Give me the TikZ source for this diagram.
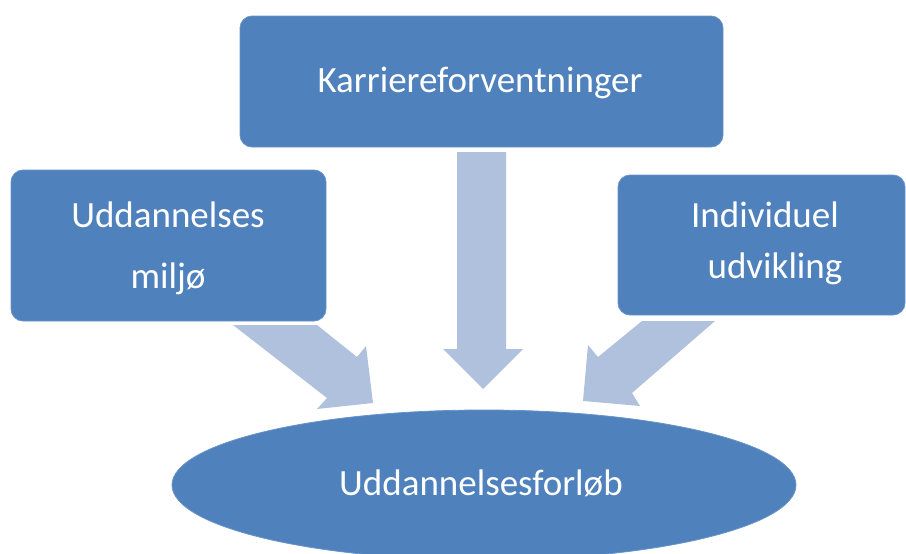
\documentclass[tikz,border=0pt]{standalone}
\usepackage{fontspec}
\setmainfont{Carlito}
\usetikzlibrary{shapes.geometric}
\definecolor{boxblue}{HTML}{4F81BD}
\definecolor{arrowblue}{HTML}{B0C1DD}
\begin{document}
\begin{tikzpicture}[x=1pt,y=-1pt,
  box/.style={rectangle, fill=boxblue, draw=boxblue!85!white, line width=0.8pt, rounded corners=12pt, inner sep=0pt},
  goalshape/.style={ellipse, fill=boxblue, draw=boxblue!85!white, line width=0.8pt, inner sep=0pt},
  blockarrow/.style={fill=arrowblue, draw=none},
  lbl/.style={text=white, font=\fontsize{37}{40}\selectfont, anchor=base, inner sep=0pt}]
\useasboundingbox (0,0) rectangle (906,554);
% block arrows
\fill[blockarrow] (233,325) -- (317,325) -- (357,357) -- (366,346) -- (373,403) -- (317,409) -- (327,398) -- cycle;
\fill[blockarrow] (457,152) -- (506,152) -- (506,349) -- (523,349) -- (483,389) -- (443,349) -- (457,349) -- cycle;
\fill[blockarrow] (715,321) -- (642,321) -- (598,357) -- (588,345) -- (583,401) -- (640,406) -- (632,393) -- cycle;
% boxes
\node[box, minimum width=483pt, minimum height=131pt] (career) at (481.5,81.5) {};
\node[box, minimum width=315pt, minimum height=151pt] (env) at (168.5,245.5) {};
\node[box, minimum width=287pt, minimum height=140pt] (indiv) at (761.5,245) {};
\node[goalshape, minimum width=624pt, minimum height=150pt] (goal) at (484,485) {};
% labels
\node[lbl] (tcareer) at (480,92) {Karriereforventninger};
\node[lbl] (tenv1) at (168,227) {Uddannelses};
\node[lbl] (tenv2) at (168,288) {miljø};
\node[lbl] (tind1) at (765,227) {Individuel};
\node[lbl] (tind2) at (775,278) {udvikling};
\node[lbl] (tgoal) at (481,495) {Uddannelsesforløb};
\end{tikzpicture}
\end{document}
